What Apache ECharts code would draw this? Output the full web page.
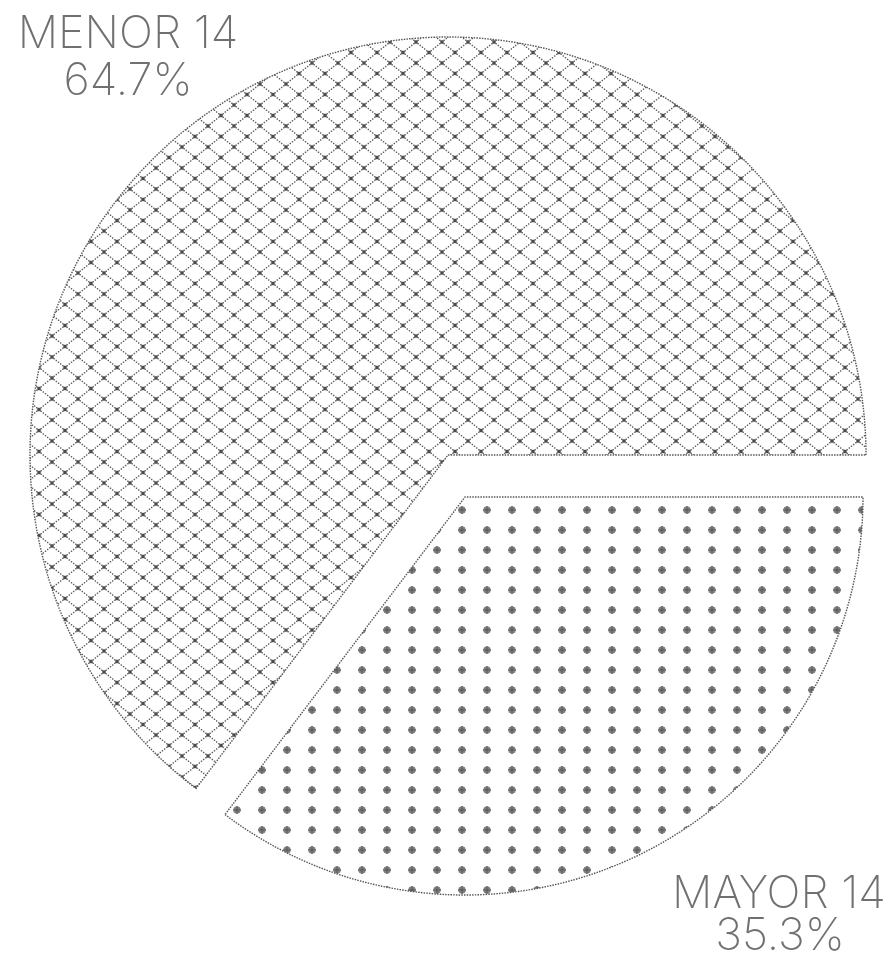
<!DOCTYPE html>
<html>
<head>
<meta charset="utf-8">
<script src="https://cdn.jsdelivr.net/npm/echarts@6/dist/echarts.min.js"></script>
<style>html,body{margin:0;padding:0;background:#fff}#c{width:894px;height:959px}</style>
</head>
<body>
<div id="c"></div>
<script>
const categories = ['MENOR 14', 'MAYOR 14'];
const percents = [64.7, 35.3];

function crossTile() {
  const w = 26, h = 21;
  const c = document.createElement('canvas');
  c.width = w; c.height = h;
  const g = c.getContext('2d');
  g.fillStyle = '#5a5a5a';
  const n = 12;
  for (let i = 0; i <= n; i++) {
    const t = i / n;
    g.fillRect(t * w - 0.7, t * h - 0.7, 1.4, 1.4);
    g.fillRect(w - t * w - 0.7, t * h - 0.7, 1.4, 1.4);
  }
  g.fillStyle = '#4a4a4a';
  const s = 3.4;
  g.fillRect(w / 2 - s / 2, h / 2 - s / 2, s, s);
  g.fillRect(-s / 2, -s / 2, s, s); g.fillRect(w - s / 2, -s / 2, s, s);
  g.fillRect(-s / 2, h - s / 2, s, s); g.fillRect(w - s / 2, h - s / 2, s, s);
  return c;
}
function dotTile() {
  const w = 25, h = 20;
  const c = document.createElement('canvas');
  c.width = w; c.height = h;
  const g = c.getContext('2d');
  const cx = 12, cy = 10;
  g.fillStyle = '#9a9a9a';
  g.beginPath(); g.arc(cx, cy, 3.8, 0, Math.PI * 2); g.fill();
  g.fillStyle = '#5a5a5a';
  g.fillRect(cx - 0.7, cy - 3.8, 1.4, 7.6);
  g.fillRect(cx - 3.8, cy - 0.7, 7.6, 1.4);
  g.fillRect(cx - 2.5, cy - 2.5, 1.2, 1.2); g.fillRect(cx + 1.3, cy - 2.5, 1.2, 1.2);
  g.fillRect(cx - 2.5, cy + 1.3, 1.2, 1.2); g.fillRect(cx + 1.3, cy + 1.3, 1.2, 1.2);
  return c;
}
const crossPat = { image: crossTile(), repeat: 'repeat' };
const dotPat = { image: dotTile(), repeat: 'repeat' };
const border = { borderColor: '#555', borderWidth: 1.4, borderType: [1.5, 1.2] };
const hidden = { color: 'transparent', borderWidth: 0 };

function buildData(showIdx, pat) {
  return categories.map((name, i) => ({
    name, value: percents[i],
    itemStyle: i === showIdx ? Object.assign({ color: pat }, border) : hidden
  }));
}

const chart = echarts.init(document.getElementById('c'), null, { renderer: 'canvas' });
const txt = (s, x, y) => ({
  type: 'text', x, y, silent: true,
  style: { text: s, fill: '#707070', font: '200 45px Inter, "Liberation Sans", sans-serif', align: 'center', verticalAlign: 'middle' }
});
chart.setOption({
  animation: false,
  series: [
    { type: 'pie', silent: true, center: [448, 455], radius: [0, 418], startAngle: 0, clockwise: false,
      label: { show: false }, labelLine: { show: false }, data: buildData(0, crossPat) },
    { type: 'pie', silent: true, center: [465, 497], radius: [0, 398], startAngle: 0, clockwise: false,
      label: { show: false }, labelLine: { show: false }, data: buildData(1, dotPat) }
  ],
  graphic: [
    txt(categories[0], 128, 34),
    txt(percents[0].toFixed(1) + '%', 128, 81),
    txt(categories[1], 779, 894),
    txt(percents[1].toFixed(1) + '%', 780, 936)
  ]
});
</script>
</body>
</html>
